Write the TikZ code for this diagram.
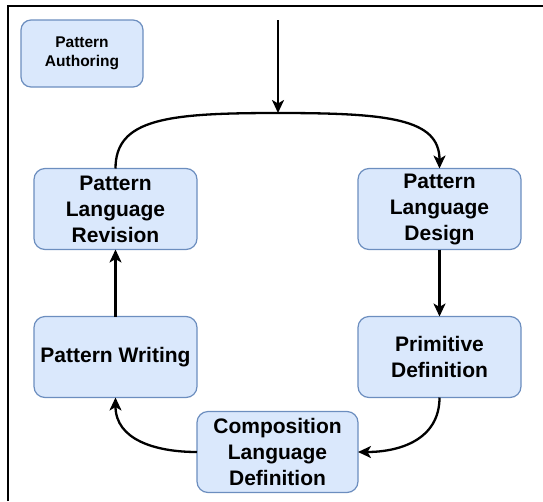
\documentclass[tikz,border=0pt]{standalone}
\usepackage{fontspec}
\setmainfont{Liberation Sans}
\usetikzlibrary{arrows.meta,positioning}
\definecolor{boxfill}{HTML}{DAE8FC}
\definecolor{boxline}{HTML}{6C8EBF}

\begin{document}
\begin{tikzpicture}[
  x=1pt, y=-1pt,
  every node/.style={font=\bfseries\fontsize{21}{26}\selectfont},
  stage/.style={draw=boxline, line width=1.2pt, fill=boxfill, rounded corners=11pt, align=center, inner sep=0pt, outer sep=0pt, minimum width=163pt, minimum height=81pt},
  note/.style={stage, minimum width=122pt, minimum height=67pt, rounded corners=10pt, font=\bfseries\fontsize{15.5}{19}\selectfont},
  arr/.style={-{Stealth[length=13pt, width=12pt, inset=3.5pt]}, line width=2.3pt}]
\useasboundingbox (0,0) rectangle (543,501);
\draw[line width=1.6pt] (8,501) -- (8,6) -- (543,6);
\node[note] (authoring) at (82,53.5) {Pattern\\ Authoring};
\node[stage] (revision) at (115.5,209) {Pattern\\ Language\\ Revision};
\node[stage, right=161pt of revision] (design) {Pattern\\ Language\\ Design};
\node[stage, below=67pt of revision] (writing) {Pattern Writing};
\node[stage, below=67pt of design] (primitive) {Primitive\\ Definition};
\node[stage, minimum width=161pt, below right=14pt and 0pt of writing] (composition) {Composition\\ Language\\ Definition};
\coordinate (entry) at (278,20);
\coordinate (merge) at (278,113);
\draw[arr] (entry) -- (merge);
\draw[arr] (revision.north) .. controls +(0,-50) and +(-110,0) .. (merge) .. controls +(110,0) and +(0,-50) .. (design.north);
\draw[arr] (design) -- (primitive);
\draw[arr] (primitive.south) .. controls +(0,42) and +(42,0) .. (composition.east);
\draw[arr] (composition.west) .. controls +(-42,0) and +(0,42) .. (writing.south);
\draw[arr] (writing) -- (revision);
\end{tikzpicture}
\end{document}
